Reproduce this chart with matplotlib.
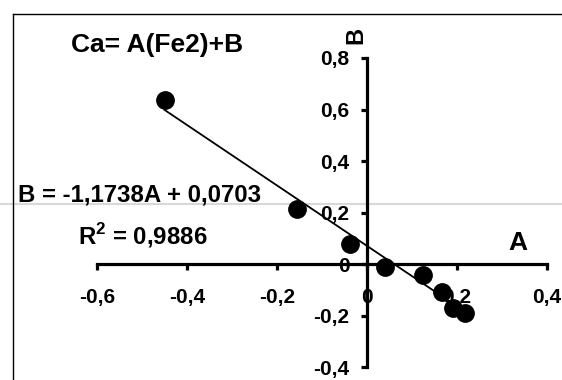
import numpy as np
import matplotlib.pyplot as plt
from matplotlib.lines import Line2D
from matplotlib.ticker import FuncFormatter

plt.rcParams['font.family'] = 'Liberation Sans'
plt.rcParams['font.weight'] = 'bold'
plt.rcParams['mathtext.fontset'] = 'custom'
plt.rcParams['mathtext.rm'] = 'Liberation Sans:bold'

# Measured coefficients A and B
A = [-0.45, -0.155, -0.038, 0.04, 0.124, 0.166, 0.19, 0.218]
B = [0.635, 0.215, 0.078, -0.012, -0.043, -0.108, -0.17, -0.19]

# Linear fit reported on the chart
slope = -1.1738
intercept = 0.0703
r2 = 0.9886

x_ticks = [-0.6, -0.4, -0.2, 0, 0.2, 0.4]
y_ticks = [-0.4, -0.2, 0, 0.2, 0.4, 0.6, 0.8]

W, H = 562, 380
fig = plt.figure(figsize=(W / 100, H / 100), dpi=100)
ax = fig.add_axes([97 / W, 1 - 367 / H, 450 / W, 309 / H])
ax.set_xlim(-0.6, 0.4)
ax.set_ylim(-0.4, 0.8)

# axes cross at the origin
ax.spines['left'].set_position('zero')
ax.spines['bottom'].set_position('zero')
ax.spines['top'].set_visible(False)
ax.spines['right'].set_visible(False)
for s in ('left', 'bottom'):
    ax.spines[s].set_linewidth(2.3)

def comma(v, pos):
    if abs(v) < 1e-9:
        return '0'
    return f'{v:.1f}'.replace('.', ',')

ax.set_xticks(x_ticks)
ax.set_yticks(y_ticks)
ax.xaxis.set_major_formatter(FuncFormatter(comma))
ax.yaxis.set_major_formatter(FuncFormatter(comma))
ax.tick_params(direction='out', length=4.5, width=2.3, labelsize=15)
ax.tick_params(axis='x', pad=13)
ax.tick_params(axis='y', pad=8)

# trend line over the data range
xl = np.array([min(A), max(A)])
ax.plot(xl, slope * xl + intercept, color='black', lw=1.3, zorder=3)
ax.plot(A, B, 'o', color='black', ms=12.5, clip_on=False, zorder=4)

ax.patch.set_alpha(0)

fig.text(157 / W, 1 - 45 / H, 'Ca= A(Fe2)+B', fontsize=19, ha='center', va='center')
fig.text(18 / W, 1 - 195 / H, 'B = -1,1738A + 0,0703', fontsize=17.3, ha='left', va='center')
fig.text(78 / W, 1 - 236 / H, r'R$^2$ = 0,9886', fontsize=17.3, ha='left', va='center')
fig.text(518 / W, 1 - 243 / H, 'A', fontsize=19, ha='center', va='center')
fig.text(356 / W, 1 - 35 / H, 'B', fontsize=17, ha='center', va='center', rotation=90)

# outer frame and light guide line
fig.add_artist(Line2D([13 / W, 13 / W], [0, 1 - 14 / H], color='black', lw=1))
fig.add_artist(Line2D([13 / W, 1], [1 - 14 / H, 1 - 14 / H], color='black', lw=1))
fig.add_artist(Line2D([0, 1], [1 - 204 / H, 1 - 204 / H], color='#d8d8d8', lw=1.5, zorder=0))

fig.savefig('out.png', dpi=100)
